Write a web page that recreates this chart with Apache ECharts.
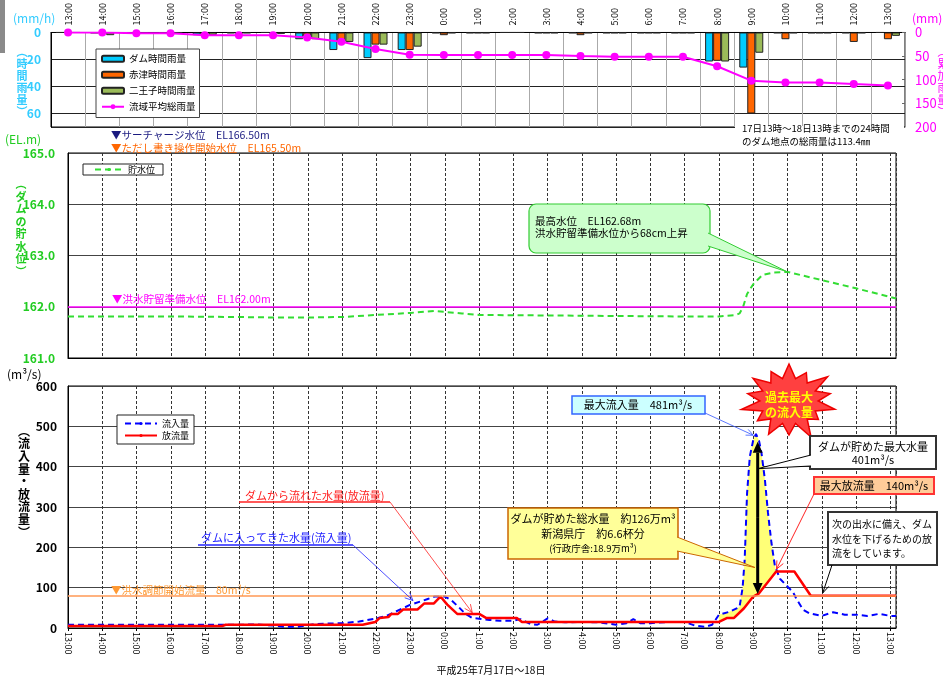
<!DOCTYPE html>
<html lang="ja">
<head>
<meta charset="UTF-8" />
<title>ダム 洪水調節状況</title>
<script src="https://cdn.jsdelivr.net/npm/echarts@6/dist/echarts.min.js"></script>
<style>
  body { margin: 0; background: #fff; }
  #chart { width: 943px; height: 685px; }
</style>
</head>
<body>
<div id="chart"></div>
<script>
  // 時刻ラベル（17日13:00〜18日13:00）
  const hourLabels = ['13:00','14:00','15:00','16:00','17:00','18:00','19:00','20:00','21:00','22:00','23:00',
    '0:00','1:00','2:00','3:00','4:00','5:00','6:00','7:00','8:00','9:00','10:00','11:00','12:00','13:00'];

  // 時間雨量 (mm/h)
  const damRain    = [0, 0.5, 0.5, 0.5, 2, 0.5, 0, 5, 13, 19, 13, 0.5, 0.5, 0, 0.5, 0.5, 0.5, 0.5, 0.5, 21.5, 26, 0.5, 0.5, 0.5, 0];
  const akatsuRain = [0, 0.5, 0.5, 0.5, 1, 1, 0.5, 3, 7, 9, 13, 2, 0.5, 0, 0.5, 2, 0.5, 0.5, 0.5, 21, 60, 5, 0.5, 7, 5];
  const ninojiRain = [0, 2, 1, 0.5, 2, 0.5, 1, 5, 7, 9, 10.5, 0.5, 0.5, 0, 0.5, 0.5, 0.5, 0.5, 0.5, 21.5, 15, 0.5, 0.5, 0.5, 2.5];
  // 流域平均総雨量 (mm)
  const totalRain  = [0, 0, 1.4, 1.4, 5.6, 5.6, 5.6, 10.4, 19.4, 34.8, 47.3, 47.9, 47.9, 47.9, 47.9, 50, 51.5, 51.5, 51.5, 71.5, 102, 105.6, 105.6, 109, 112];

  // 以下 [13:00からの経過時間(h), 値]
  const waterLevel = [[0,161.81],[3,161.81],[5,161.80],[6,161.79],[7,161.79],[8,161.80],[9,161.84],[10,161.88],
    [10.7,161.92],[11,161.90],[11.5,161.87],[12,161.84],[14,161.83],[16,161.82],[18,161.81],[19,161.81],
    [19.5,161.84],[19.6,161.87],[19.7,161.99],[19.82,162.25],[20,162.44],[20.27,162.62],[20.6,162.67],
    [21,162.68],[22,162.52],[23,162.36],[24.17,162.16]];

  const inflow = [[0,8],[1,8],[2,8],[3,8],[4,8],[5,8],[5.5,9],[6,6],[6.3,3],[6.7,3],[7,7],[7.2,10],[8,12],
    [8.5,16],[9,24],[9.3,30],[9.5,38],[9.8,50],[10,58],[10.3,66],[10.5,72],[10.7,78],[11,78],[11.2,68],
    [11.4,52],[11.6,35],[11.8,25],[12,23],[12.3,20],[12.6,18],[13,18],[13.2,22],[13.5,10],[13.7,8],[14,24],
    [14.2,16],[14.5,14],[15,15],[15.5,14],[16,8],[16.3,12],[16.5,22],[16.7,12],[17,12],[17.5,15],[18,15],
    [18.3,6],[18.6,3],[18.8,8],[19,33],[19.3,40],[19.5,48],[19.6,52],[19.69,100],[19.75,169],[19.82,334],
    [19.9,425],[20,466],[20.08,481],[20.17,464],[20.24,434],[20.34,368],[20.43,286],[20.53,212],[20.63,155],
    [20.78,122],[21.02,101],[21.16,89],[21.26,72],[21.46,45],[21.65,36],[22,30],[22.33,39],[22.67,33],
    [23,33],[23.33,30],[23.67,35],[24,30],[24.17,30]];

  const outflow = [[0,5],[4.5,5],[4.6,8],[8.6,8],[8.8,12],[8.97,15],[9.1,25],[9.35,27],[9.44,35],[9.63,35],
    [9.78,46],[10.2,46],[10.4,61],[10.68,61],[10.87,78],[11.07,58],[11.36,35],[12,35],[12.2,25],[13.1,25],
    [13.25,15],[19,15],[19.24,25],[19.44,25],[19.73,49],[20,78],[20.17,86],[20.67,140],[21.2,140],
    [21.68,80],[24.17,80]];

  const prepLevel = 162.0;   // 洪水貯留準備水位
  const controlFlow = 80;    // 洪水調節開始流量

  const FONT = "'Noto Sans CJK JP', 'Noto Sans', sans-serif";
  const chart = echarts.init(document.getElementById('chart'));

  const timeAxis = (grid, showLabel) => ({
    type: 'value', gridIndex: grid, min: 0, max: 24.1667, interval: 1,
    axisLine: { lineStyle: { color: '#000' } },
    axisTick: { show: showLabel, length: 3, lineStyle: { color: '#000' } },
    axisLabel: {
      show: showLabel, rotate: -90, fontSize: 9, color: '#000', margin: 4, showMaxLabel: false,
      formatter: v => ((13 + Math.round(v)) % 24) + ':00'
    },
    splitLine: { show: true, lineStyle: { color: '#333', type: [3, 2] } }
  });

  // 貯めた水量の黄色い部分（流入量と放流量の間）
  const fillPts = inflow.filter(p => p[0] >= 19 && p[0] <= 20.63)
    .concat(outflow.filter(p => p[0] >= 19 && p[0] <= 20.67).reverse());

  chart.setOption({
    animation: false,
    textStyle: { fontFamily: FONT },
    grid: [
      { left: 51, right: 38, top: 31, height: 96, show: true, borderColor: '#000', borderWidth: 1 },
      { left: 68, right: 47, top: 153, height: 205, show: true, borderColor: '#000', borderWidth: 1 },
      { left: 68, right: 47, top: 386, height: 242, show: true, borderColor: '#000', borderWidth: 1 }
    ],
    legend: [
      { data: ['ダム時間雨量', '赤津時間雨量', '二王子時間雨量', '流域平均総雨量'], left: 96, top: 49,
        orient: 'vertical', itemWidth: 22, itemHeight: 6, itemGap: 6.5, padding: [5, 4, 6, 5],
        borderColor: '#444', borderWidth: 1, backgroundColor: '#fff', selectedMode: false,
        textStyle: { fontSize: 9.5, color: '#000' } },
      { data: ['貯水位'], left: 83, top: 164, itemWidth: 28, itemHeight: 4, padding: [1, 8, 1, 11],
        borderColor: '#222', borderWidth: 1, backgroundColor: '#fff', selectedMode: false,
        textStyle: { fontSize: 9, color: '#000' } },
      { data: ['流入量', '放流量'], left: 117, top: 415, orient: 'vertical', itemWidth: 32, itemHeight: 4,
        itemGap: 3, padding: [4, 5, 4, 7], borderColor: '#222', borderWidth: 1, backgroundColor: '#fff',
        selectedMode: false, textStyle: { fontSize: 9, color: '#000' } }
    ],
    xAxis: [
      { type: 'category', gridIndex: 0, data: hourLabels, position: 'top', boundaryGap: true,
        axisLine: { lineStyle: { color: '#000' } }, axisTick: { show: false },
        axisLabel: { interval: 0, rotate: 90, fontSize: 9, color: '#000', margin: 7 },
        splitLine: { show: true, interval: 0, lineStyle: { color: '#aaa' } } },
      timeAxis(1, false),
      timeAxis(2, true)
    ],
    yAxis: [
      { type: 'value', gridIndex: 0, inverse: true, min: 0, max: 70, interval: 20,
        axisLine: { show: true, lineStyle: { color: '#000' } }, axisTick: { show: false },
        axisLabel: { color: '#33ccff', fontSize: 12, fontWeight: 'bold', margin: 10, showMaxLabel: false },
        splitLine: { lineStyle: { color: '#222' } } },
      { type: 'value', gridIndex: 0, inverse: true, min: 0, max: 200, interval: 50, position: 'right',
        axisLine: { show: true, lineStyle: { color: '#999' } },
        axisTick: { show: true, inside: true, length: 3, lineStyle: { color: '#666' } },
        axisLabel: { color: '#ff00ff', fontSize: 13, margin: 10 }, splitLine: { show: false } },
      { type: 'value', gridIndex: 1, min: 161, max: 165, interval: 1,
        axisLine: { show: true, lineStyle: { color: '#000' } }, axisTick: { show: false },
        axisLabel: { color: '#22cc22', fontSize: 12, fontWeight: 'bold', margin: 13, formatter: v => v.toFixed(1) },
        splitLine: { lineStyle: { color: '#444' } } },
      { type: 'value', gridIndex: 2, min: 0, max: 600, interval: 100,
        axisLine: { show: true, lineStyle: { color: '#000' } }, axisTick: { show: false },
        axisLabel: { color: '#000', fontSize: 12, fontWeight: 'bold', margin: 11 },
        splitLine: { lineStyle: { color: '#444' } } }
    ],
    series: [
      { name: 'ダム時間雨量', type: 'bar', xAxisIndex: 0, yAxisIndex: 0, data: damRain, barWidth: 8, barGap: '0%',
        itemStyle: { color: '#00ccff', borderColor: '#222', borderWidth: 1 } },
      { name: '赤津時間雨量', type: 'bar', xAxisIndex: 0, yAxisIndex: 0, data: akatsuRain, barWidth: 8, barGap: '0%',
        itemStyle: { color: '#ff6600', borderColor: '#222', borderWidth: 1 } },
      { name: '二王子時間雨量', type: 'bar', xAxisIndex: 0, yAxisIndex: 0, data: ninojiRain, barWidth: 8, barGap: '0%',
        itemStyle: { color: '#9bbb59', borderColor: '#222', borderWidth: 1 } },
      { name: '流域平均総雨量', type: 'line', xAxisIndex: 0, yAxisIndex: 1, data: totalRain,
        symbol: 'circle', symbolSize: 8, itemStyle: { color: '#ff00ff' }, lineStyle: { color: '#ff00ff', width: 2 } },
      { name: '貯水位', type: 'line', xAxisIndex: 1, yAxisIndex: 2, data: waterLevel, symbol: 'none',
        itemStyle: { color: '#33dd33' }, lineStyle: { color: '#33dd33', width: 2, type: [6, 4] },
        markLine: { silent: true, symbol: 'none', label: { show: false },
          lineStyle: { color: '#ff00ff', width: 1.5, type: 'solid' }, data: [{ yAxis: prepLevel }] } },
      { name: '貯留', type: 'custom', xAxisIndex: 2, yAxisIndex: 3, data: [[19, 0]], z: 1,
        renderItem: (params, api) => ({
          type: 'polygon', shape: { points: fillPts.map(p => api.coord(p)) },
          style: { fill: '#ffff77', stroke: 'none' }
        }) },
      { name: '流入量', type: 'line', xAxisIndex: 2, yAxisIndex: 3, data: inflow, symbol: 'none', z: 3,
        itemStyle: { color: '#0000ff' }, lineStyle: { color: '#0000ff', width: 2, type: [6, 4] },
        markLine: { silent: true, symbol: 'none', label: { show: false },
          lineStyle: { color: '#ff9955', width: 1.5, type: 'solid' }, data: [{ yAxis: controlFlow }] } },
      { name: '放流量', type: 'line', xAxisIndex: 2, yAxisIndex: 3, data: outflow, symbol: 'none', z: 4,
        itemStyle: { color: '#ff0000' }, lineStyle: { color: '#ff0000', width: 2.5 } }
    ]
  });

  // ---- 注記 ----
  const P = (g, x, y) => chart.convertToPixel({ gridIndex: g }, [x, y]);

  function txt(x, y, text, color, size, extra) {
    return Object.assign({ type: 'text', x: x, y: y, z: 100,
      style: Object.assign({ text: text, fill: color, font: (size || 11) + 'px ' + FONT,
        textVerticalAlign: 'middle' }, (extra && extra.style) || {}) }, extra && extra.el || {});
  }
  function vtxt(x, y, chars, color, size, lh, bold) {
    return { type: 'text', x: x, y: y, z: 100,
      style: { text: chars.split('').join('\n'), fill: color, lineHeight: lh,
        font: (bold ? 'bold ' : '') + size + 'px ' + FONT, textAlign: 'center' } };
  }
  function box(x, y, w, h, fill, stroke, lw, r) {
    return { type: 'rect', z: 99, shape: { x: x, y: y, width: w, height: h, r: r || 0 },
      style: { fill: fill, stroke: stroke, lineWidth: lw } };
  }
  function arrow(a, b, color, w, head, filled) {
    const ang = Math.atan2(b[1] - a[1], b[0] - a[0]);
    const hx = b[0] - head * Math.cos(ang), hy = b[1] - head * Math.sin(ang);
    const px = -Math.sin(ang) * head * 0.45, py = Math.cos(ang) * head * 0.45;
    const out = [{ type: 'line', z: 100, shape: { x1: a[0], y1: a[1], x2: filled ? hx : b[0], y2: filled ? hy : b[1] },
      style: { stroke: color, lineWidth: w } }];
    if (filled) {
      out.push({ type: 'polygon', z: 100, shape: { points: [b, [hx + px, hy + py], [hx - px, hy - py]] }, style: { fill: color } });
    } else {
      out.push({ type: 'polyline', z: 100, shape: { points: [[hx + px, hy + py], b, [hx - px, hy - py]] },
        style: { stroke: color, lineWidth: w, fill: null } });
    }
    return out;
  }
  function wedge(a, tip, b, fill, stroke) {
    return [
      { type: 'polygon', z: 100, shape: { points: [a, tip, b] }, style: { fill: fill, stroke: 'none' } },
      { type: 'polyline', z: 100, shape: { points: [a, tip, b] }, style: { stroke: stroke, lineWidth: 1, fill: null } }
    ];
  }
  function star(cx, cy) {
    const pts = [], n = 14;
    const jit = [1, 0.85, 1.05, 0.9, 1, 0.8, 1.08, 0.92, 1, 0.86, 1.04, 0.9, 0.98, 0.88];
    for (let i = 0; i < n * 2; i++) {
      const a = -Math.PI / 2 + i * Math.PI / n;
      const k = i % 2 === 0 ? jit[i / 2] : 0.62;
      pts.push([cx + Math.cos(a) * 47 * k, cy + Math.sin(a) * 37 * k]);
    }
    return { type: 'polygon', z: 99, shape: { points: pts }, style: { fill: '#ff4040', stroke: '#ee0000', lineWidth: 1.5 } };
  }

  const g = [];
  g.push({ type: 'rect', z: 100, shape: { x: 0, y: 0, width: 5, height: 53 }, style: { fill: '#8a8a8a' } });
  // 雨量軸
  g.push(txt(13, 18, '(mm/h)', '#33ccff', 12));
  g.push(vtxt(22, 46, '︵時間雨量︶', '#33ccff', 11, 12, true));
  g.push(txt(912, 18, '(mm)', '#ff00ff', 12));
  g.push(vtxt(943, 46, '︵累加雨量︶', '#ff00ff', 11, 12, false));
  g.push({ type: 'rect', z: 99, shape: { x: 735, y: 126, width: 169, height: 21 }, style: { fill: '#fff' } });
  g.push(txt(742, 128, '17日13時～18日13時までの24時間', '#000', 9.5));
  g.push(txt(742, 141, 'のダム地点の総雨量は113.4㎜', '#000', 9.5));
  // 水位
  g.push(txt(111, 135.5, '▼サーチャージ水位　EL166.50m', '#1a1a80', 10.5));
  g.push(txt(111, 148, '▼ただし書き操作開始水位　EL165.50m', '#ff6600', 10.5));
  g.push(txt(5, 139, '(EL.m)', '#22cc22', 12));
  g.push(vtxt(21, 178, '︵ダムの貯水位︶', '#22cc22', 11, 12.5, true));
  g.push(txt(112, 299.5, '▼洪水貯留準備水位　EL162.00m', '#ff00ff', 10.5));
  g.push(box(529, 204, 181, 49, '#ccffcc', '#33cc33', 1.2, 7));
  g.push(...wedge([708, 233], P(1, 21, 162.68), [708, 246], '#ccffcc', '#33cc33'));
  g.push(txt(535, 221.5, '最高水位　EL162.68m', '#000', 10.5));
  g.push(txt(535, 233, '洪水貯留準備水位から68cm上昇', '#000', 10.5));
  // 流量
  g.push(txt(7, 374.5, '(m³/s)', '#000', 12));
  g.push(vtxt(24, 425, '︵流入量・放流量︶', '#000', 12, 12.6, true));
  g.push(txt(111, 590, '▼洪水調節開始流量　80m³/s', '#ff9933', 10.5));
  g.push(txt(245, 496, 'ダムから流れた水量(放流量)', '#ff2222', 11));
  g.push({ type: 'polyline', z: 100, shape: { points: [[239, 502], [390, 502]] }, style: { stroke: '#ff2222', lineWidth: 1.5 } });
  g.push(...arrow([390, 502], P(2, 11.8, 38), '#ff2222', 0.8, 8, false));
  g.push(txt(201, 537.5, 'ダムに入ってきた水量(流入量)', '#2222ff', 11));
  g.push({ type: 'polyline', z: 100, shape: { points: [[198, 545], [353, 545]] }, style: { stroke: '#2222ff', lineWidth: 1.5 } });
  g.push(...arrow([353, 545], P(2, 10.07, 68), '#2222ff', 0.8, 8, false));

  g.push(box(572, 396, 133, 18, '#ccffff', '#3366ff', 1.5));
  g.push(txt(638, 405, '最大流入量　481m³/s', '#000', 11, { style: { textAlign: 'center' } }));
  g.push(...arrow([705, 413], P(2, 20.0, 478), '#3355ff', 0.8, 7, false));

  g.push(star(789, 401));
  g.push(txt(789, 405, '過去最大\nの流入量', '#ffff00', 12,
    { style: { textAlign: 'center', lineHeight: 15, font: 'bold 12px ' + FONT } }));

  const arTop = P(2, 20.13, 462), arBot = P(2, 20.13, 84);
  const arMid = [arTop[0], (arTop[1] + arBot[1]) / 2];
  g.push(...arrow(arMid, arTop, '#000', 3, 11, true));
  g.push(...arrow(arMid, arBot, '#000', 3, 11, true));

  g.push(box(810, 436, 126, 33, '#fff', '#333', 2));
  g.push(...wedge([811, 455], P(2, 20.13, 395), [811, 466], '#fff', '#000'));
  g.push(txt(873, 446.5, 'ダムが貯めた最大水量', '#000', 11, { style: { textAlign: 'center' } }));
  g.push(txt(873, 459.5, '401m³/s', '#000', 11, { style: { textAlign: 'center' } }));

  g.push(box(814, 477, 120, 17, '#ffcc99', '#ff3333', 2));
  g.push(txt(874, 486, '最大放流量　140m³/s', '#000', 11, { style: { textAlign: 'center' } }));
  g.push(...arrow([814, 494], P(2, 20.68, 146), '#ff2222', 1, 8, false));

  g.push(box(508, 508, 170, 51, '#ffff99', '#cc6600', 1.5));
  g.push(...wedge([677, 537], P(2, 20.05, 150), [677, 551], '#ffff99', '#cc6600'));
  g.push(txt(593, 519, 'ダムが貯めた総水量　約126万m³', '#000', 11, { style: { textAlign: 'center' } }));
  g.push(txt(593, 534, '新潟県庁　約6.6杯分', '#000', 11, { style: { textAlign: 'center' } }));
  g.push(txt(593, 548.5, '(行政庁舎:18.9万m³)', '#000', 9.5, { style: { textAlign: 'center' } }));

  g.push(box(828, 512, 109, 53, '#fff', '#333', 2));
  g.push(txt(832, 524.5, '次の出水に備え、ダム', '#000', 10));
  g.push(txt(832, 539, '水位を下げるための放', '#000', 10));
  g.push(txt(832, 553, '流をしています。', '#000', 10));
  g.push(...arrow([832, 565], P(2, 22.03, 87), '#000', 1, 8, false));

  g.push(txt(491, 670, '平成25年7月17日～18日', '#000', 10, { style: { textAlign: 'center' } }));

  chart.setOption({ graphic: { elements: g } });
</script>
</body>
</html>
